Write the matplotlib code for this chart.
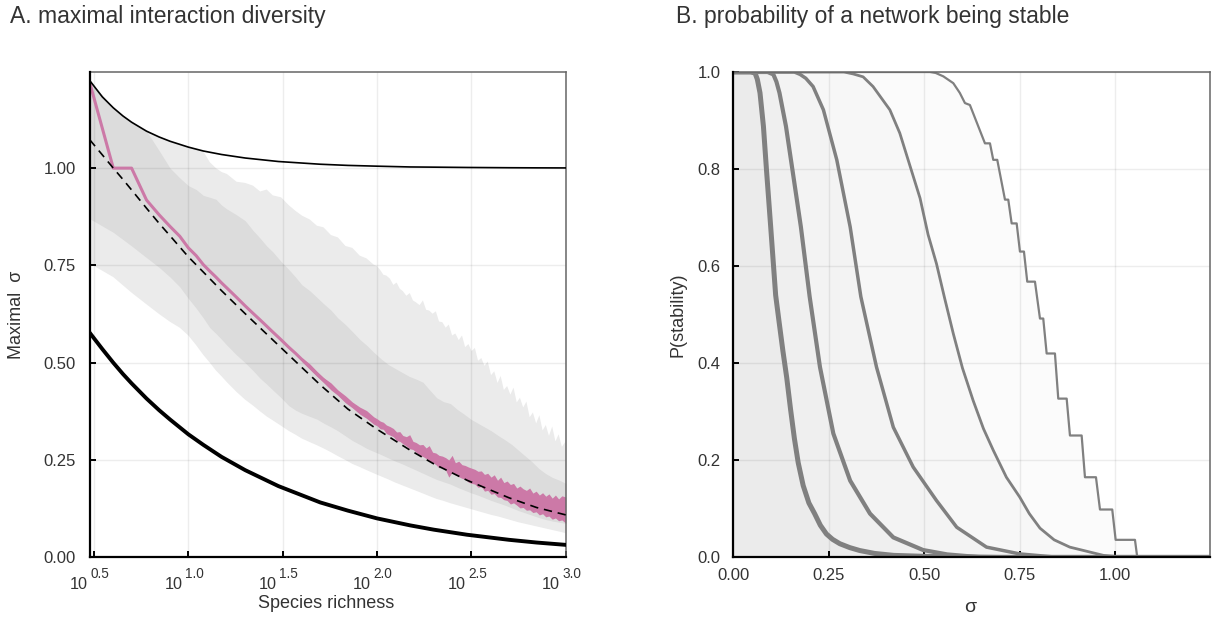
import matplotlib
matplotlib.use("Agg")
import matplotlib.pyplot as plt
from matplotlib import transforms
from matplotlib.ticker import FixedLocator, NullLocator

plt.rcParams['font.family'] = ['Liberation Sans', 'DejaVu Sans']

# ---------------- Panel A: maximal sigma vs species richness ----------------
richness_ref = [3, 3.5, 4, 4.5, 5, 6, 7, 8, 10, 12, 15, 20, 30, 50, 70, 100,
                150, 200, 300, 500, 700, 1000]
upper_bound = [1.225, 1.183, 1.155, 1.134, 1.118, 1.095, 1.080, 1.069, 1.054,
               1.044, 1.035, 1.026, 1.017, 1.010, 1.007, 1.005, 1.003, 1.0025,
               1.0017, 1.001, 1.0007, 1.0005]
lower_bound = [0.577, 0.535, 0.500, 0.471, 0.447, 0.408, 0.378, 0.354, 0.316,
               0.289, 0.258, 0.224, 0.183, 0.141, 0.120, 0.100, 0.082, 0.071,
               0.058, 0.045, 0.038, 0.032]
expected_sigma = [1.073, 1.034, 1.000, 0.971, 0.944, 0.897, 0.858, 0.826, 0.772,
                  0.733, 0.685, 0.626, 0.545, 0.443, 0.381, 0.329, 0.275, 0.240,
                  0.198, 0.153, 0.128, 0.109]

# richness values for the simulated summaries
species = [3, 4, 5, 6, 7, 8, 9, 10, 11, 12, 13, 14, 15, 16, 18, 20, 22, 24, 26,
           28, 31, 34, 37, 40, 44, 48, 52, 57, 62, 68, 74, 81, 88, 96, 105, 115,
           125, 136, 148, 161, 175, 190, 207, 225, 245, 266, 289, 314, 341, 371,
           403, 438, 476, 517, 562, 611, 664, 721, 784, 852, 926, 1000]
species_dense = [100, 104, 108, 112, 117, 122, 127, 132, 137, 143, 149, 155,
                 161, 168, 175, 182, 189, 197, 205, 213, 222, 231, 240, 250, 260,
                 271, 282, 293, 305, 317, 330, 343, 357, 371, 386, 402, 418, 435,
                 452, 470, 489, 509, 529, 550, 572, 595, 619, 644, 670, 697, 725,
                 754, 784, 815, 848, 882, 917, 954, 1000]

# widest range: upper edge (S < 100 from `species`, then `species_dense`)
range_hi_low_s = [1.224, 1.155, 1.118, 1.095, 1.080, 1.069, 1.060, 1.054, 1.048,
                  1.043, 1.015, 1.000, 0.990, 0.985, 0.965, 0.962, 0.955, 0.940,
                  0.945, 0.930, 0.925, 0.905, 0.890, 0.878, 0.868, 0.852, 0.848,
                  0.828, 0.822, 0.800, 0.795, 0.775, 0.768, 0.752]
range_hi_high_s = [0.748, 0.738, 0.726, 0.724, 0.716, 0.700, 0.706, 0.690, 0.684,
                   0.672, 0.679, 0.660, 0.655, 0.648, 0.660, 0.636, 0.634, 0.626,
                   0.632, 0.606, 0.604, 0.590, 0.598, 0.570, 0.575, 0.558, 0.570,
                   0.540, 0.548, 0.530, 0.538, 0.505, 0.512, 0.492, 0.503, 0.468,
                   0.478, 0.448, 0.466, 0.430, 0.440, 0.418, 0.436, 0.398, 0.410,
                   0.385, 0.400, 0.360, 0.372, 0.344, 0.365, 0.326, 0.340, 0.312,
                   0.336, 0.298, 0.316, 0.284, 0.298]
range_lo = [0.755, 0.720, 0.680, 0.650, 0.625, 0.605, 0.590, 0.570, 0.545, 0.520,
            0.500, 0.480, 0.465, 0.450, 0.425, 0.405, 0.390, 0.375, 0.362, 0.352,
            0.338, 0.325, 0.315, 0.305, 0.296, 0.288, 0.280, 0.270, 0.260, 0.250,
            0.240, 0.232, 0.224, 0.216, 0.208, 0.200, 0.192, 0.185, 0.178, 0.171,
            0.164, 0.157, 0.150, 0.145, 0.139, 0.134, 0.129, 0.124, 0.119, 0.114,
            0.109, 0.105, 0.100, 0.095, 0.090, 0.086, 0.082, 0.078, 0.074, 0.070,
            0.066, 0.062]
core_hi = [1.224, 1.155, 1.118, 1.095, 1.045, 1.000, 0.975, 0.955, 0.945, 0.930,
           0.925, 0.920, 0.905, 0.895, 0.880, 0.865, 0.840, 0.820, 0.800, 0.785,
           0.760, 0.740, 0.720, 0.700, 0.685, 0.668, 0.652, 0.635, 0.615, 0.598,
           0.580, 0.560, 0.545, 0.527, 0.510, 0.495, 0.485, 0.475, 0.465, 0.458,
           0.450, 0.430, 0.410, 0.400, 0.395, 0.380, 0.368, 0.355, 0.345, 0.335,
           0.325, 0.313, 0.302, 0.290, 0.275, 0.260, 0.245, 0.228, 0.215, 0.205,
           0.198, 0.190]
core_lo = [0.870, 0.835, 0.800, 0.770, 0.745, 0.720, 0.695, 0.665, 0.640, 0.615,
           0.590, 0.575, 0.560, 0.545, 0.520, 0.500, 0.480, 0.460, 0.445, 0.430,
           0.410, 0.390, 0.378, 0.370, 0.362, 0.355, 0.345, 0.335, 0.325, 0.312,
           0.300, 0.290, 0.280, 0.272, 0.264, 0.255, 0.247, 0.240, 0.232, 0.224,
           0.216, 0.208, 0.200, 0.194, 0.188, 0.180, 0.173, 0.166, 0.160, 0.153,
           0.146, 0.140, 0.134, 0.127, 0.120, 0.114, 0.108, 0.102, 0.097, 0.093,
           0.090, 0.087]
observed_mid = [1.220, 1.000, 1.000, 0.918, 0.880, 0.850, 0.825, 0.795, 0.775,
                0.752, 0.735, 0.720, 0.705, 0.692, 0.668, 0.646, 0.627, 0.610,
                0.594, 0.579, 0.559, 0.540, 0.524, 0.508, 0.489, 0.471, 0.456,
                0.439, 0.423, 0.405, 0.391, 0.377, 0.365, 0.352, 0.339, 0.326,
                0.315, 0.303, 0.292, 0.281, 0.271, 0.261, 0.251, 0.243, 0.234,
                0.225, 0.216, 0.208, 0.200, 0.192, 0.185, 0.177, 0.169, 0.163,
                0.155, 0.149, 0.143, 0.137, 0.132, 0.128, 0.123, 0.120]
# spread of the observed value: S = 40 .. 96 from `species`, then `species_dense`
observed_lo_low_s = [0.503, 0.483, 0.465, 0.449, 0.430, 0.416, 0.397, 0.384,
                     0.368, 0.357, 0.342]
observed_hi_low_s = [0.513, 0.497, 0.478, 0.462, 0.448, 0.430, 0.415, 0.399,
                     0.386, 0.377, 0.361]
observed_lo_high_s = [0.338, 0.330, 0.329, 0.318, 0.314, 0.310, 0.300, 0.298,
                      0.292, 0.286, 0.279, 0.277, 0.270, 0.262, 0.259, 0.254,
                      0.248, 0.244, 0.238, 0.230, 0.231, 0.224, 0.206, 0.218,
                      0.212, 0.207, 0.203, 0.200, 0.193, 0.190, 0.188, 0.180,
                      0.182, 0.170, 0.172, 0.162, 0.164, 0.155, 0.154, 0.148,
                      0.146, 0.137, 0.140, 0.134, 0.127, 0.128, 0.121, 0.122,
                      0.115, 0.117, 0.109, 0.112, 0.104, 0.106, 0.098, 0.101,
                      0.094, 0.096, 0.088]
observed_hi_high_s = [0.356, 0.350, 0.347, 0.340, 0.336, 0.331, 0.322, 0.323,
                      0.313, 0.310, 0.315, 0.298, 0.295, 0.289, 0.290, 0.281,
                      0.287, 0.270, 0.268, 0.262, 0.260, 0.256, 0.250, 0.262,
                      0.243, 0.247, 0.238, 0.236, 0.232, 0.229, 0.226, 0.221,
                      0.222, 0.213, 0.216, 0.206, 0.212, 0.198, 0.206, 0.192,
                      0.196, 0.187, 0.190, 0.178, 0.183, 0.176, 0.172, 0.178,
                      0.165, 0.170, 0.160, 0.166, 0.157, 0.163, 0.152, 0.160,
                      0.150, 0.158, 0.155]

richness_ticks = [10 ** 0.5, 10 ** 1.0, 10 ** 1.5, 10 ** 2.0, 10 ** 2.5, 10 ** 3.0]
richness_exponents = ['0.5', '1.0', '1.5', '2.0', '2.5', '3.0']
sigma_max_ticks = [0.0, 0.25, 0.5, 0.75, 1.0]

# ---------------- Panel B: probability of stability vs sigma ----------------
sig_1 = [0, 0.045, 0.057, 0.063, 0.070, 0.079, 0.087, 0.098, 0.111, 0.120, 0.130,
         0.140, 0.150, 0.160, 0.170, 0.183, 0.198, 0.213, 0.228, 0.244, 0.260,
         0.279, 0.305, 0.331, 0.370, 0.420, 0.500, 0.700, 1.25]
p_1 = [1, 1, 0.998, 0.985, 0.957, 0.888, 0.798, 0.681, 0.540, 0.485, 0.425,
       0.370, 0.305, 0.245, 0.195, 0.148, 0.112, 0.090, 0.066, 0.048, 0.037,
       0.028, 0.020, 0.014, 0.008, 0.004, 0.002, 0.0, 0.0]
sig_2 = [0, 0.090, 0.105, 0.113, 0.121, 0.138, 0.155, 0.177, 0.200, 0.227, 0.262,
         0.306, 0.358, 0.419, 0.497, 0.560, 0.650, 1.25]
p_2 = [1, 1, 0.995, 0.980, 0.957, 0.888, 0.798, 0.681, 0.537, 0.392, 0.255,
       0.158, 0.090, 0.041, 0.015, 0.006, 0.0, 0.0]
sig_3 = [0, 0.160, 0.175, 0.190, 0.209, 0.236, 0.271, 0.306, 0.334, 0.375, 0.419,
         0.471, 0.532, 0.585, 0.663, 0.750, 0.850, 1.25]
p_3 = [1, 1, 0.995, 0.987, 0.970, 0.922, 0.819, 0.681, 0.537, 0.392, 0.268,
       0.186, 0.117, 0.062, 0.021, 0.007, 0.0, 0.0]
sig_4 = [0, 0.290, 0.314, 0.340, 0.366, 0.410, 0.436, 0.489, 0.510, 0.532, 0.553,
         0.576, 0.600, 0.628, 0.655, 0.681, 0.715, 0.750, 0.775, 0.803, 0.840,
         0.881, 0.969, 1.030, 1.25]
p_4 = [1, 1, 0.996, 0.990, 0.970, 0.922, 0.874, 0.740, 0.665, 0.605, 0.535,
       0.461, 0.390, 0.323, 0.265, 0.220, 0.165, 0.124, 0.090, 0.060, 0.036,
       0.021, 0.004, 0.0, 0.0]
sig_5 = [0, 0.515, 0.530, 0.550, 0.576, 0.593, 0.6065, 0.6195, 0.6589, 0.672,
         0.6806, 0.6911, 0.7113, 0.7199, 0.7288, 0.7419, 0.7505, 0.761, 0.7696,
         0.7898, 0.8029, 0.8115, 0.8204, 0.8421, 0.8508, 0.8728, 0.8814, 0.912,
         0.9207, 0.9495, 0.960, 0.9921, 1.001, 1.0516, 1.0576, 1.25]
p_5 = [1, 1, 0.998, 0.991, 0.977, 0.957, 0.936, 0.932, 0.853, 0.853, 0.819,
       0.819, 0.737, 0.737, 0.688, 0.688, 0.630, 0.630, 0.568, 0.568, 0.492,
       0.492, 0.420, 0.420, 0.327, 0.327, 0.251, 0.251, 0.165, 0.165, 0.0985,
       0.0985, 0.036, 0.036, 0.0, 0.0]
stability_curves = [(sig_1, p_1, 3.6), (sig_2, p_2, 3.0), (sig_3, p_3, 2.5),
                    (sig_4, p_4, 2.0), (sig_5, p_5, 1.6)]
sigma_ticks = [0.0, 0.25, 0.5, 0.75, 1.0]
prob_ticks = [0.0, 0.2, 0.4, 0.6, 0.8, 1.0]

PINK = '#CC79A7'
TEXT = '#333333'
CURVE = '#808080'
PX = 0.72  # points per pixel at 100 dpi

fig = plt.figure(figsize=(12.14, 6.18), dpi=100)
axA = fig.add_axes([0.0739, 0.0982, 0.3921, 0.7853])
axB = fig.add_axes([0.6040, 0.0982, 0.3927, 0.7853])


def style_axes(ax):
    ax.set_axisbelow('line')
    ax.grid(True, color='black', alpha=0.07, lw=1.0)
    for side in ('left', 'bottom'):
        ax.spines[side].set_color('black')
        ax.spines[side].set_linewidth(1.6)
        ax.spines[side].set_zorder(5)
    for side in ('top', 'right'):
        ax.spines[side].set_color('#666666')
        ax.spines[side].set_linewidth(1.1)
    ax.tick_params(axis='both', which='major', direction='in', length=4.5,
                   width=1.4, color='black', labelcolor=TEXT, labelsize=12,
                   top=False, right=False)


# ---- Panel A ----
n_low = len(range_hi_low_s)
range_x = species[:n_low] + species_dense + species[::-1]
range_y = range_hi_low_s + range_hi_high_s + range_lo[::-1]
axA.fill(range_x, range_y, color='#ebebeb', lw=0, zorder=1)
axA.fill_between(species, core_lo, core_hi, color='#dcdcdc', lw=0, zorder=1.1)

spread_start = species.index(40)
spread_x = species[spread_start:n_low] + species_dense
axA.fill_between(spread_x, observed_lo_low_s + observed_lo_high_s,
                 observed_hi_low_s + observed_hi_high_s,
                 color=PINK, lw=0, zorder=2.4)
axA.plot(species, observed_mid, color=PINK, lw=2.2, zorder=2.5)
axA.plot(richness_ref, expected_sigma, color='black', lw=1.2,
         dashes=(5, 3.5), zorder=3)
axA.plot(richness_ref, upper_bound, color='black', lw=1.2, zorder=3)
axA.plot(richness_ref, lower_bound, color='black', lw=2.8, zorder=3)

axA.set_xscale('log')
axA.set_xlim(3, 1000)
axA.set_ylim(0, 1.247)
axA.xaxis.set_major_locator(FixedLocator(richness_ticks))
axA.xaxis.set_minor_locator(NullLocator())
axA.set_xticklabels([])
axA.yaxis.set_major_locator(FixedLocator(sigma_max_ticks))
axA.set_yticklabels(['%.2f' % v for v in sigma_max_ticks])
style_axes(axA)
axA.tick_params(axis='y', pad=10)

# power-of-ten tick labels: base and raised exponent
base_tr = transforms.blended_transform_factory(axA.transData, axA.transAxes)
base_off = transforms.offset_copy(base_tr, fig=fig, x=-6 * PX, y=-31.7 * PX,
                                  units='points')
exp_off = transforms.offset_copy(base_tr, fig=fig, x=-3.5 * PX, y=-20.4 * PX,
                                 units='points')
for tick, expo in zip(richness_ticks, richness_exponents):
    axA.text(tick, 0, '10', transform=base_off, ha='right', va='baseline',
             fontsize=11.7, color=TEXT, clip_on=False)
    axA.text(tick, 0, expo, transform=exp_off, ha='left', va='baseline',
             fontsize=9.8, color=TEXT, clip_on=False)

axA.set_xlabel('Species richness', fontsize=13, color=TEXT)
axA.set_ylabel('Maximal  σ', fontsize=13, color=TEXT)
axA.xaxis.set_label_coords(0.496, -0.078)
axA.yaxis.set_label_coords(-0.135, 0.5)

# ---- Panel B ----
for sig, p, lw in stability_curves:
    axB.fill_between(sig, 0, p, color='black', alpha=0.016, lw=0, zorder=1)
for sig, p, lw in stability_curves:
    axB.plot(sig, p, color=CURVE, lw=lw, zorder=2)

axB.set_xlim(0, 1.248)
axB.set_ylim(0, 1)
axB.xaxis.set_major_locator(FixedLocator(sigma_ticks))
axB.set_xticklabels(['%.2f' % v for v in sigma_ticks])
axB.yaxis.set_major_locator(FixedLocator(prob_ticks))
axB.set_yticklabels(['%.1f' % v for v in prob_ticks])
style_axes(axB)
axB.tick_params(axis='x', pad=8)
axB.tick_params(axis='y', pad=9)
axB.set_xlabel('σ', fontsize=14, color=TEXT)
axB.set_ylabel('P(stability)', fontsize=13, color=TEXT)
axB.xaxis.set_label_coords(0.4966, -0.085)
axB.yaxis.set_label_coords(-0.099, 0.5)

fig.text(0.0082, 0.992, 'A. maximal interaction diversity', fontsize=16.5,
         color=TEXT, ha='left', va='top')
fig.text(0.5568, 0.992, 'B. probability of a network being stable',
         fontsize=16.5, color=TEXT, ha='left', va='top')

fig.savefig('out.png', dpi=100)
